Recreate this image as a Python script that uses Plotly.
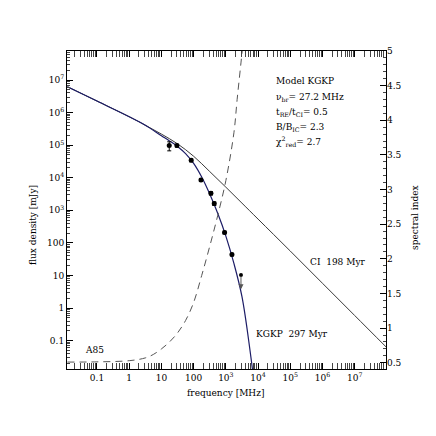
import numpy as np
import plotly.graph_objects as go

# CI model curve
ci_freq = [0.0121, 0.1, 1, 3.16, 10, 31.6, 100, 316, 1000, 3162, 1e4, 1e5, 1e6, 1e7, 1e8]
ci_flux = [6.22e6, 2.26e6, 7.48e5, 4.1e5, 2.19e5, 1.10e5, 4.57e4, 1.55e4, 5.13e3,
           1.66e3, 537, 56.2, 5.75, 0.589, 0.0603]

# KGKP model curve
kgkp_freq = [0.0121, 0.1, 1, 3.16, 10, 17.8, 31.6, 56.2, 100, 178, 316, 562, 1000,
             1778, 3162, 5623, 7943]
kgkp_flux = [6.22e6, 2.26e6, 7.48e5, 4.1e5, 1.95e5, 1.35e5, 9.12e4, 5.50e4, 2.75e4,
             1.05e4, 3.16e3, 794, 162, 23.4, 2.24, 0.050, 0.0032]

# spectral index of the KGKP model (right axis)
si_freq = [0.0121, 0.1, 1, 3.16, 5.62, 10, 17.8, 31.6, 56.2, 100, 178, 316, 562,
           1000, 1778, 2239, 3162, 3548]
si_val = [0.51, 0.513, 0.53, 0.57, 0.62, 0.70, 0.80, 0.93, 1.11, 1.37, 1.76, 2.18,
          2.63, 3.13, 3.82, 4.30, 4.97, 5.2]

# A85 measurements
obs_freq = [17.5, 30.3, 84, 169, 344, 436, 912, 1545]
obs_flux = [9.7e4, 9.7e4, 3.44e4, 8.6e3, 3.35e3, 1.61e3, 210, 44]
obs_err = [3.0e4, 1.0e4, 3.5e3, 9e2, 4e2, 2e2, 20, 4]

# upper limit
ul_freq = 2944
ul_flux = 10.4
ul_tip = 3.8

xtick_vals = [0.1, 1, 10, 100, 1e3, 1e4, 1e5, 1e6, 1e7]
xtick_text = ['0.1', '1', '10', '100', '10<sup>3</sup>', '10<sup>4</sup>',
              '10<sup>5</sup>', '10<sup>6</sup>', '10<sup>7</sup>']
ytick_vals = [0.1, 1, 10, 100, 1e3, 1e4, 1e5, 1e6, 1e7]
ytick_text = ['0.1', '1', '10', '100', '10<sup>3</sup>', '10<sup>4</sup>',
              '10<sup>5</sup>', '10<sup>6</sup>', '10<sup>7</sup>']
si_ticks = [0.5, 1, 1.5, 2, 2.5, 3, 3.5, 4, 4.5, 5]
si_text = ['0.5', '1', '1.5', '2', '2.5', '3', '3.5', '4', '4.5', '5']

minor_log = [k * 10.0 ** d for d in range(-2, 8) for k in range(2, 10)]

FONT = 'DejaVu Serif'
FS = 9

fig = go.Figure()

fig.add_trace(go.Scatter(
    x=si_freq, y=si_val, yaxis='y2', mode='lines', line_shape='spline',
    line=dict(color='#555555', width=1, dash='7px,5px')
))
fig.add_trace(go.Scatter(
    x=ci_freq, y=ci_flux, mode='lines', line_shape='spline',
    line=dict(color='#3a3a3a', width=1)
))
fig.add_trace(go.Scatter(
    x=kgkp_freq, y=kgkp_flux, mode='lines', line_shape='spline',
    line=dict(color='#1c1c66', width=1.2)
))
fig.add_trace(go.Scatter(
    x=obs_freq, y=obs_flux, mode='markers',
    marker=dict(color='black', size=5),
    error_y=dict(type='data', array=obs_err, color='black', thickness=1, width=2)
))
fig.add_trace(go.Scatter(
    x=[ul_freq], y=[ul_flux], mode='markers',
    marker=dict(color='black', size=4)
))

fig.add_annotation(
    x=np.log10(ul_freq), y=np.log10(ul_tip), ax=np.log10(ul_freq), ay=np.log10(ul_flux),
    xref='x', yref='y', axref='x', ayref='y', text='', showarrow=True,
    arrowhead=2, arrowsize=1, arrowwidth=1, arrowcolor='#555555'
)

txt = dict(xref='paper', yref='paper', showarrow=False, xanchor='left', yanchor='middle',
           font=dict(family=FONT, size=FS, color='black'))
fig.add_annotation(x=0.650, y=0.905, text='Model KGKP', **txt)
fig.add_annotation(x=0.650, y=0.855, text='ν<sub>br</sub>= 27.2 MHz', **txt)
fig.add_annotation(x=0.650, y=0.808, text='t<sub>RE</sub>/t<sub>CI</sub>= 0.5', **txt)
fig.add_annotation(x=0.650, y=0.761, text='B/B<sub>IC</sub>= 2.3', **txt)
fig.add_annotation(x=0.650, y=0.714, text='χ<sup>2</sup><sub>red</sub>= 2.7', **txt)
fig.add_annotation(x=0.755, y=0.336, text='CI\u00a0\u00a0198 Myr', **txt)
fig.add_annotation(x=0.585, y=0.110, text='KGKP\u00a0\u00a0297 Myr', **txt)
fig.add_annotation(x=0.051, y=0.060, text='A85', **txt)

ttl = dict(xref='paper', yref='paper', showarrow=False, xanchor='center', yanchor='middle',
           font=dict(family=FONT, size=FS, color='black'))
fig.add_annotation(x=0.498, y=-0.0755, text='frequency [MHz]', **ttl)
fig.add_annotation(x=-0.1066, y=0.453, text='flux density [mJy]', textangle=-90, **ttl)
fig.add_annotation(x=1.091, y=0.475, text='spectral index', textangle=-90, **ttl)

# the page body adds an 8px offset, so the figure is drawn 8px smaller
fig.update_layout(
    width=428, height=428,
    margin=dict(l=59, r=50, t=43, b=67),
    paper_bgcolor='white', plot_bgcolor='white',
    showlegend=False,
    font=dict(family=FONT, size=FS, color='black'),
    xaxis=dict(
        type='log', range=[-1.93, 7.97], showgrid=False, zeroline=False,
        showline=True, linecolor='black', linewidth=1, mirror='allticks',
        ticks='inside', ticklen=6, tickcolor='black',
        tickvals=xtick_vals, ticktext=xtick_text,
        minor=dict(ticks='inside', ticklen=3, tickcolor='#444444',
                   tickmode='array', tickvals=minor_log, showgrid=False)
    ),
    yaxis=dict(
        type='log', range=[-1.87, 7.89], showgrid=False, zeroline=False,
        showline=True, linecolor='black', linewidth=1, mirror=True,
        ticks='inside', ticklen=6, tickcolor='black',
        tickvals=ytick_vals, ticktext=ytick_text,
        minor=dict(ticks='inside', ticklen=3, tickcolor='#444444',
                   tickmode='array', tickvals=minor_log, showgrid=False)
    ),
    yaxis2=dict(
        overlaying='y', side='right', range=[0.41, 5.0], showgrid=False,
        zeroline=False, showline=False,
        ticks='inside', ticklen=6, tickcolor='black',
        tickvals=si_ticks, ticktext=si_text,
        minor=dict(ticks='inside', ticklen=3, tickcolor='#444444', dtick=0.1,
                   tick0=0, showgrid=False)
    ),
)

fig.write_html("out.html")
